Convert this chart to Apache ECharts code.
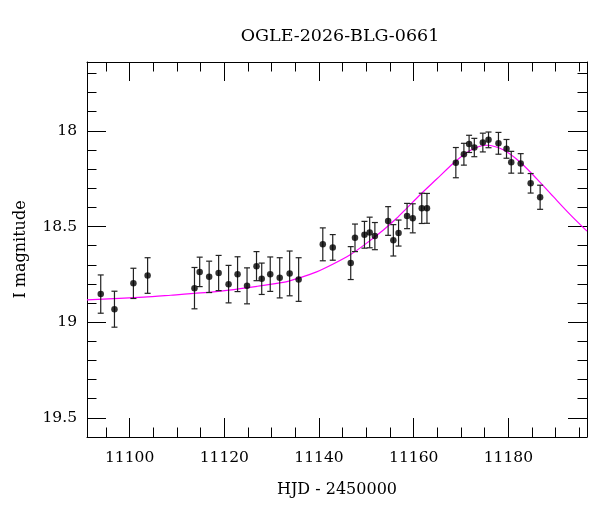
<!DOCTYPE html>
<html>
<head>
<meta charset="utf-8">
<script src="https://cdn.jsdelivr.net/npm/echarts@6/dist/echarts.min.js"></script>
<style>
  html, body { margin: 0; padding: 0; background: #ffffff; }
  #chart { width: 600px; height: 512px; }
</style>
</head>
<body>
<div id="chart"></div>
<script>
// photometry: HJD - 2450000, I magnitude, error
const hjd = [11093.9, 11096.8, 11100.8, 11103.8, 11113.7, 11114.8, 11116.8, 11118.8, 11120.9, 11122.8,
  11124.8, 11126.8, 11127.9, 11129.7, 11131.7, 11133.8, 11135.7, 11140.8, 11142.9, 11146.7,
  11147.6, 11149.6, 11150.7, 11151.8, 11154.6, 11155.7, 11156.8, 11158.6, 11159.8, 11161.7,
  11162.8, 11168.9, 11170.6, 11171.7, 11172.8, 11174.6, 11175.8, 11177.9, 11179.6, 11180.6,
  11182.6, 11184.7, 11186.7];
const mag = [18.853, 18.932, 18.797, 18.756, 18.822, 18.737, 18.763, 18.743, 18.801, 18.749,
  18.810, 18.707, 18.773, 18.749, 18.768, 18.745, 18.777, 18.593, 18.609, 18.691,
  18.559, 18.543, 18.531, 18.550, 18.471, 18.572, 18.534, 18.445, 18.457, 18.405,
  18.405, 18.166, 18.122, 18.068, 18.087, 18.061, 18.047, 18.065, 18.094, 18.164,
  18.170, 18.274, 18.347];
const magErr = [0.100, 0.094, 0.079, 0.093, 0.108, 0.077, 0.082, 0.092, 0.098, 0.091,
  0.094, 0.076, 0.082, 0.090, 0.105, 0.117, 0.114, 0.086, 0.067, 0.086,
  0.072, 0.070, 0.080, 0.071, 0.075, 0.082, 0.068, 0.066, 0.076, 0.079,
  0.078, 0.079, 0.057, 0.045, 0.048, 0.049, 0.041, 0.057, 0.049, 0.057,
  0.051, 0.051, 0.063];

// model curve
const modelX = [11091, 11103, 11108.7, 11115, 11121, 11127, 11132.4, 11135.9, 11139.5, 11143.0,
  11146.5, 11150.0, 11153.6, 11156.4, 11158.5, 11161.3, 11164.8, 11168.4, 11171.9, 11175.4,
  11178.9, 11182.5, 11186.0, 11189.5, 11193.0, 11196.6];
const modelMag = [18.883, 18.869, 18.859, 18.847, 18.832, 18.812, 18.792, 18.768, 18.737, 18.696,
  18.649, 18.588, 18.518, 18.457, 18.405, 18.335, 18.253, 18.169, 18.103, 18.075,
  18.099, 18.164, 18.251, 18.344, 18.436, 18.524];

const xMajor = [11100, 11120, 11140, 11160, 11180];
const xMinor = [11095, 11105, 11110, 11115, 11125, 11130, 11135, 11145, 11150, 11155,
  11165, 11170, 11175, 11185, 11190, 11195];
const yMajor = [18, 18.5, 19, 19.5];
const yMinor = [17.7, 17.8, 17.9, 18.1, 18.2, 18.3, 18.4, 18.6, 18.7, 18.8, 18.9,
  19.1, 19.2, 19.3, 19.4];

const X_MIN = 11091, X_MAX = 11196.6;
const Y_MIN = 17.64, Y_MAX = 19.6;
const FONT = "DejaVu Serif";

function tickAxis(opts) {
  return Object.assign({
    type: "value",
    splitLine: { show: false },
    axisLine: { show: false },
    axisLabel: { show: false },
    axisTick: { show: true, inside: true, lineStyle: { color: "#000", width: 1 } }
  }, opts);
}

const xAxes = [
  tickAxis({
    min: X_MIN, max: X_MAX, position: "bottom",
    name: "HJD - 2450000", nameLocation: "middle", nameGap: 45,
    nameTextStyle: { fontFamily: FONT, fontSize: 16, color: "#000" },
    axisLine: { show: true, lineStyle: { color: "#000", width: 1 } },
    axisTick: { show: true, inside: true, length: 19, customValues: xMajor, lineStyle: { color: "#000" } },
    axisLabel: { show: true, customValues: xMajor, margin: 13, fontFamily: FONT, fontSize: 15.5, color: "#000",
      formatter: v => String(v) }
  }),
  tickAxis({ min: X_MIN, max: X_MAX, position: "bottom",
    axisTick: { show: true, inside: true, length: 9.5, customValues: xMinor, lineStyle: { color: "#000" } } }),
  tickAxis({ min: X_MIN, max: X_MAX, position: "top",
    axisLine: { show: true, lineStyle: { color: "#000", width: 1 } },
    axisTick: { show: true, inside: true, length: 19, customValues: xMajor, lineStyle: { color: "#000" } } }),
  tickAxis({ min: X_MIN, max: X_MAX, position: "top",
    axisTick: { show: true, inside: true, length: 9.5, customValues: xMinor, lineStyle: { color: "#000" } } })
];

const yAxes = [
  tickAxis({
    min: Y_MIN, max: Y_MAX, inverse: true, position: "left",
    name: "I magnitude", nameLocation: "middle", nameGap: 58, nameRotate: 90,
    nameTextStyle: { fontFamily: FONT, fontSize: 16, color: "#000" },
    axisLine: { show: true, lineStyle: { color: "#000", width: 1 } },
    axisTick: { show: true, inside: true, length: 19, customValues: yMajor, lineStyle: { color: "#000" } },
    axisLabel: { show: true, customValues: yMajor, margin: 10, fontFamily: FONT, fontSize: 15.5, color: "#000" }
  }),
  tickAxis({ min: Y_MIN, max: Y_MAX, inverse: true, position: "left",
    axisTick: { show: true, inside: true, length: 9.5, customValues: yMinor, lineStyle: { color: "#000" } } }),
  tickAxis({ min: Y_MIN, max: Y_MAX, inverse: true, position: "right",
    axisLine: { show: true, lineStyle: { color: "#000", width: 1 } },
    axisTick: { show: true, inside: true, length: 19, customValues: yMajor, lineStyle: { color: "#000" } } }),
  tickAxis({ min: Y_MIN, max: Y_MAX, inverse: true, position: "right",
    axisTick: { show: true, inside: true, length: 9.5, customValues: yMinor, lineStyle: { color: "#000" } } })
];

const points = hjd.map((x, i) => [x, mag[i]]);
const bars = hjd.map((x, i) => [x, mag[i] - magErr[i], mag[i] + magErr[i]]);
const model = modelX.map((x, i) => [x, modelMag[i]]);

const option = {
  animation: false,
  backgroundColor: "#ffffff",
  title: {
    text: "OGLE-2026-BLG-0661",
    left: 335, top: 22, textAlign: "center",
    textStyle: { fontFamily: FONT, fontSize: 17.5, fontWeight: "normal", color: "#000" }
  },
  grid: { left: 87, top: 62, width: 500, height: 375, containLabel: false },
  xAxis: xAxes,
  yAxis: yAxes,
  series: [
    {
      type: "line",
      data: model,
      smooth: 0.3,
      showSymbol: false,
      clip: true,
      lineStyle: { color: "#ff00ff", width: 1.2 },
      z: 2
    },
    {
      type: "custom",
      data: bars,
      z: 3,
      renderItem: function (params, api) {
        const x = api.value(0);
        const top = api.coord([x, api.value(1)]);
        const bot = api.coord([x, api.value(2)]);
        const cap = 3;
        const style = { stroke: "#222", lineWidth: 1.2 };
        return {
          type: "group",
          children: [
            { type: "line", shape: { x1: top[0], y1: top[1], x2: bot[0], y2: bot[1] }, style: style },
            { type: "line", shape: { x1: top[0] - cap, y1: top[1], x2: top[0] + cap, y2: top[1] }, style: style },
            { type: "line", shape: { x1: bot[0] - cap, y1: bot[1], x2: bot[0] + cap, y2: bot[1] }, style: style }
          ]
        };
      }
    },
    {
      type: "scatter",
      data: points,
      symbol: "circle",
      symbolSize: 6.5,
      itemStyle: { color: "#000" },
      z: 4
    }
  ]
};

const myChart = echarts.init(document.getElementById("chart"));
myChart.setOption(option);
</script>
</body>
</html>
